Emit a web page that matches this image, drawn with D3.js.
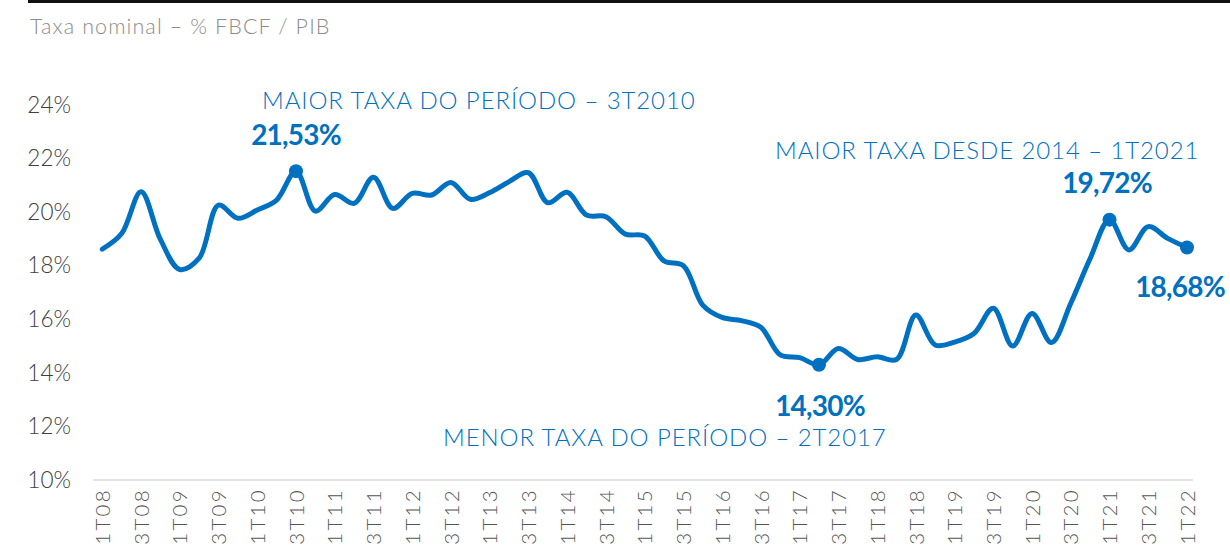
<!DOCTYPE html>
<html>
<head>
<meta charset="utf-8">
<script src="https://cdn.jsdelivr.net/npm/d3@7"></script>
<style>
  html, body { margin: 0; padding: 0; background: #fff; }
  svg { display: block; }
  text { font-family: Lato, "Open Sans", sans-serif; }
</style>
</head>
<body>
<svg id="chart" width="1230" height="555"></svg>
<script>
// ---- data ----
const quarters = [];
for (let y = 8; y <= 22; y++) {
  for (let q = 1; q <= 4; q++) {
    if (y === 22 && q > 1) break;
    quarters.push(q + "T" + String(y).padStart(2, "0"));
  }
}
const values = [
  18.62, 19.20, 20.76, 18.98, 17.86, 18.28, 20.26, 19.77, 20.08, 20.45,
  21.53, 20.04, 20.66, 20.33, 21.30, 20.14, 20.70, 20.64, 21.11, 20.48,
  20.73, 21.14, 21.47, 20.35, 20.74, 19.89, 19.83, 19.18, 19.11, 18.18,
  18.00, 16.53, 16.07, 15.95, 15.70, 14.67, 14.57, 14.30, 14.91, 14.50,
  14.60, 14.50, 16.16, 15.04, 15.15, 15.47, 16.41, 15.00, 16.22, 15.13,
  16.60, 18.27, 19.72, 18.59, 19.46, 19.02, 18.68
];
const yTicks = [10, 12, 14, 16, 18, 20, 22, 24];
const tickLabels = quarters.filter(q => q[0] === "1" || q[0] === "3");
const highlights = [
  { q: "3T10", label: "21,53%" },
  { q: "2T17", label: "14,30%" },
  { q: "1T21", label: "19,72%" },
  { q: "1T22", label: "18,68%" }
];
const title = "Taxa nominal – % FBCF / PIB";
const notes = [
  "MAIOR TAXA DO PERÍODO – 3T2010",
  "MENOR TAXA DO PERÍODO – 2T2017",
  "MAIOR TAXA DESDE 2014 – 1T2021"
];

// ---- drawing ----
const blue = "#0070C0";
const svg = d3.select("#chart");

const x = d3.scalePoint().domain(quarters).range([102.3, 1187]);
const y = d3.scaleLinear().domain([10, 24]).range([480, 105]);

// top rule
svg.append("line").attr("x1", 28).attr("x2", 1230).attr("y1", 1.5).attr("y2", 1.5)
  .attr("stroke", "#111").attr("stroke-width", 3);

// title
svg.append("text").attr("x", 30).attr("y", 34).attr("fill", "#8c8c8c")
  .attr("font-size", 21.5).attr("font-weight", 300).attr("letter-spacing", 1.1).text(title);

// baseline gridline
svg.append("line").attr("x1", 93).attr("x2", 1193)
  .attr("y1", y(10)).attr("y2", y(10))
  .attr("stroke", "#d9d9d9").attr("stroke-width", 1.5);

// y axis
const yAxis = d3.axisLeft(y).tickValues(yTicks).tickSize(0).tickPadding(0)
  .tickFormat(d => d + "%");
const gy = svg.append("g").attr("transform", "translate(71,0)").call(yAxis);
gy.select(".domain").remove();
gy.selectAll("text").attr("font-size", 22.5).attr("fill", "#404040")
  .attr("font-family", "Lato, sans-serif").attr("font-weight", 300);

// x axis
const xAxis = d3.axisBottom(x).tickValues(tickLabels).tickSize(0).tickPadding(0);
const gx = svg.append("g").attr("transform", "translate(0,488)").call(xAxis);
gx.select(".domain").remove();
gx.selectAll("text")
  .attr("font-size", 20.5).attr("fill", "#555").attr("font-weight", 300)
  .attr("font-family", "Lato, sans-serif")
  .attr("letter-spacing", 2.3)
  .attr("text-anchor", "end")
  .attr("transform", "rotate(-90)")
  .attr("x", 0).attr("y", 0).attr("dx", 0).attr("dy", "0.35em");

// line
const line = d3.line()
  .x((d, i) => x(quarters[i]))
  .y(d => y(d))
  .curve(d3.curveCatmullRom.alpha(0.5));
svg.append("path").datum(values).attr("d", line)
  .attr("fill", "none").attr("stroke", blue).attr("stroke-width", 5)
  .attr("stroke-linejoin", "round").attr("stroke-linecap", "round");

// highlight dots
svg.selectAll("circle.hl").data(highlights).join("circle")
  .attr("class", "hl")
  .attr("cx", d => x(d.q))
  .attr("cy", d => y(values[quarters.indexOf(d.q)]))
  .attr("r", 7).attr("fill", blue);

// value labels
const valPos = { "3T10": [296, 145], "2T17": [820, 416], "1T21": [1107, 193], "1T22": [1180, 297] };
svg.selectAll("text.val").data(highlights).join("text")
  .attr("class", "val")
  .attr("x", d => valPos[d.q][0]).attr("y", d => valPos[d.q][1])
  .attr("text-anchor", "middle")
  .attr("fill", blue).attr("font-size", 28).attr("font-weight", 700)
  .attr("font-family", "Lato, sans-serif")
  .attr("letter-spacing", -0.8)
  .text(d => d.label);

// annotation notes
const notePos = [[262, 109, "start"], [443, 446, "start"], [775, 159, "start"]];
svg.selectAll("text.note").data(notes).join("text")
  .attr("class", "note")
  .attr("x", (d, i) => notePos[i][0]).attr("y", (d, i) => notePos[i][1])
  .attr("text-anchor", (d, i) => notePos[i][2])
  .attr("fill", blue).attr("font-size", 24).attr("font-weight", 300)
  .attr("letter-spacing", 0.9)
  .text(d => d);
</script>
</body>
</html>
